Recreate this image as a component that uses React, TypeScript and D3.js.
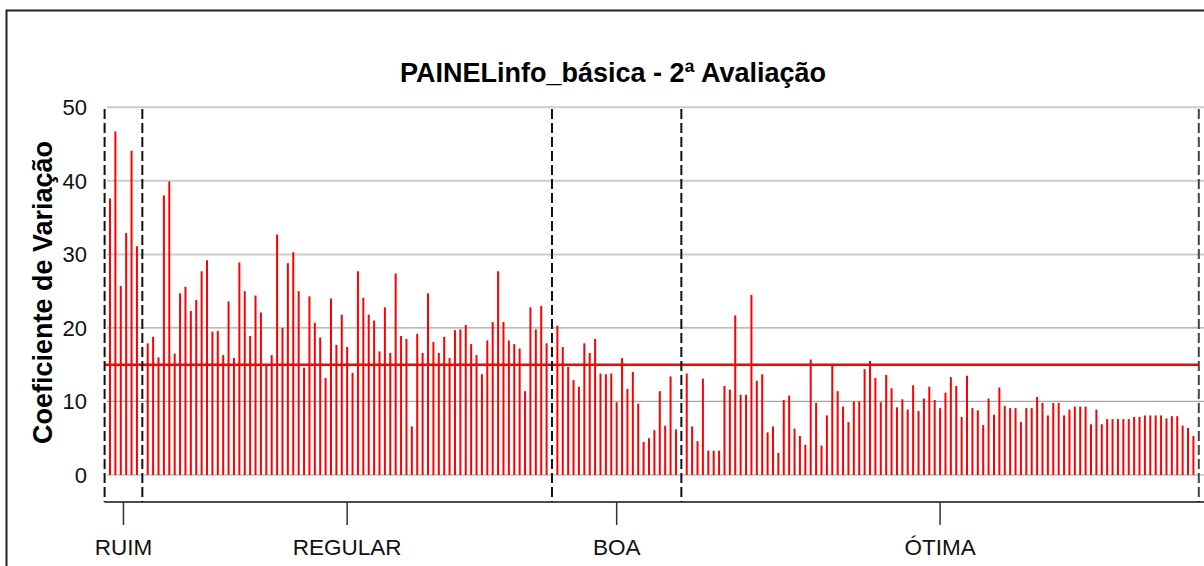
import React from "react";
import * as d3 from "d3";

const title = "PAINELinfo_básica - 2ª Avaliação";
const yTitle = "Coeficiente de Variação";
const categories = ["RUIM", "REGULAR", "BOA", "ÓTIMA"];
const yTicks = [0, 10, 20, 30, 40, 50];
const threshold = 15;

const ruim = [37.6, 46.7, 25.7, 32.9, 44.1, 31.1];
const regular = [
  17.9, 18.8, 16.0, 38.0, 39.9, 16.5, 24.7, 25.6, 22.3, 23.8, 27.7, 29.2, 19.5, 19.6, 16.3,
  23.6, 15.9, 28.9, 25.0, 18.9, 24.4, 22.1, 15.0, 16.3, 32.7, 20.0, 28.8, 30.3, 25.0, 14.6,
  24.3, 20.7, 18.7, 13.2, 24.0, 17.7, 21.8, 17.4, 13.9, 27.7, 24.1, 21.8, 21.0, 16.8, 22.8,
  16.6, 27.4, 18.9, 18.5, 6.6, 19.2, 16.6, 24.7, 18.1, 16.6, 18.8, 15.9, 19.7, 19.8, 20.4,
  17.8, 16.3, 13.7, 18.3, 20.8, 27.7, 20.8, 18.3, 17.8, 17.2, 11.4, 22.8, 19.8, 23.0, 17.9,
];
const boa = [
  20.3, 17.4, 14.7, 12.9, 12.0, 17.9, 16.6, 18.5, 13.8, 13.7, 13.8, 9.9, 15.9, 11.7, 14.0,
  9.7, 4.5, 5.0, 6.1, 11.4, 6.7, 13.4, 6.2,
];
const otima = [
  13.8, 6.6, 4.6, 13.1, 3.3, 3.3, 3.3, 12.1, 11.6, 21.7, 10.9, 10.9, 24.5, 12.8, 13.7, 5.8,
  6.6, 3.0, 10.2, 10.8, 6.3, 5.3,
  4.1, 15.7, 9.8, 4.0, 8.1, 15.1, 11.4, 9.3, 7.2, 10.0, 10.0, 14.4, 15.5, 13.2, 9.9, 13.6,
  11.8, 9.2, 10.3, 8.9, 12.2, 8.7, 10.4, 12.0, 10.2, 9.1,
  11.2, 13.3, 12.1, 7.9, 13.5, 9.1, 8.8, 6.8, 10.4, 8.2, 11.9, 9.4, 9.1, 9.1, 7.2, 9.1, 9.1,
  10.6, 9.8, 8.1, 9.8, 9.8, 8.1, 8.9, 9.3, 9.3,
  9.3, 6.9, 8.9, 6.9, 7.6, 7.6, 7.6, 7.6, 7.6, 7.9, 7.9, 8.1, 8.1, 8.1, 8.1, 7.7, 8.0, 8.0,
  6.7, 6.4, 5.3,
];

const groups = [ruim, regular, boa, otima];

export default function App() {
  const W = 1204;
  const H = 566;

  const bars: { slot: number; v: number }[] = [];
  const bounds: number[] = [-1];
  const centers: number[] = [];
  let slot = 0;
  groups.forEach((g, gi) => {
    const start = slot;
    g.forEach((v) => {
      bars.push({ slot, v });
      slot++;
    });
    centers.push((start + slot - 1) / 2);
    bounds.push(slot);
    if (gi < groups.length - 1) slot++;
  });
  const total = slot;

  const x = d3.scaleLinear().domain([-1, total]).range([104.6, 1198.8]);
  const y = d3.scaleLinear().domain([0, 50]).range([475, 107.3]);

  const font = "'Liberation Sans', Arial, Helvetica, sans-serif";
  const axisY = 502;

  return (
    <svg
      width={W}
      height={H}
      style={{ position: "absolute", left: 0, top: 0, background: "#fff" }}
      fontFamily={font}
    >
      <rect x={0} y={0} width={W} height={H} fill="#fff" />
      <rect x={6.5} y={10.5} width={1400} height={700} fill="none" stroke="#222" strokeWidth={2} />

      {yTicks.map((t) => (
        <line
          key={"g" + t}
          x1={107}
          x2={W}
          y1={y(t)}
          y2={y(t)}
          stroke={t >= 30 ? "#cccccc" : "#a6a6a6"}
          strokeWidth={t >= 30 ? 2 : 1.2}
        />
      ))}

      {bars.map((b, i) => (
        <line
          key={"b" + i}
          x1={x(b.slot)}
          x2={x(b.slot)}
          y1={y(0)}
          y2={y(b.v)}
          stroke="#ff0000"
          strokeWidth={2}
        />
      ))}

      <line
        x1={x(-1)}
        x2={x(total)}
        y1={y(threshold)}
        y2={y(threshold)}
        stroke="#ff0000"
        strokeWidth={2.5}
      />

      {bounds.map((bd, i) => (
        <line
          key={"d" + i}
          x1={x(bd)}
          x2={x(bd)}
          y1={109}
          y2={axisY}
          stroke={i === bounds.length - 1 ? "#444" : "#111"}
          strokeWidth={2}
          strokeDasharray="10,4"
        />
      ))}

      <line x1={x(-1)} x2={W} y1={axisY} y2={axisY} stroke="#111" strokeWidth={1.5} />
      {categories.map((c, i) => (
        <g key={"c" + c}>
          <line
            x1={x(centers[i])}
            x2={x(centers[i])}
            y1={axisY}
            y2={525}
            stroke="#333"
            strokeWidth={1.5}
          />
          <text x={x(centers[i])} y={555} textAnchor="middle" fontSize={22.5} fill="#111">
            {c}
          </text>
        </g>
      ))}

      {yTicks.map((t) => (
        <text key={"t" + t} x={87} y={y(t) + 8} textAnchor="end" fontSize={22} fill="#111">
          {t}
        </text>
      ))}

      <text
        transform={`translate(52,292.5) rotate(-90)`}
        textAnchor="middle"
        fontSize={27}
        fontWeight="bold"
        fill="#000"
      >
        {yTitle}
      </text>

      <text x={613} y={82} textAnchor="middle" fontSize={27} fontWeight="bold" fill="#000">
        {title}
      </text>
    </svg>
  );
}
